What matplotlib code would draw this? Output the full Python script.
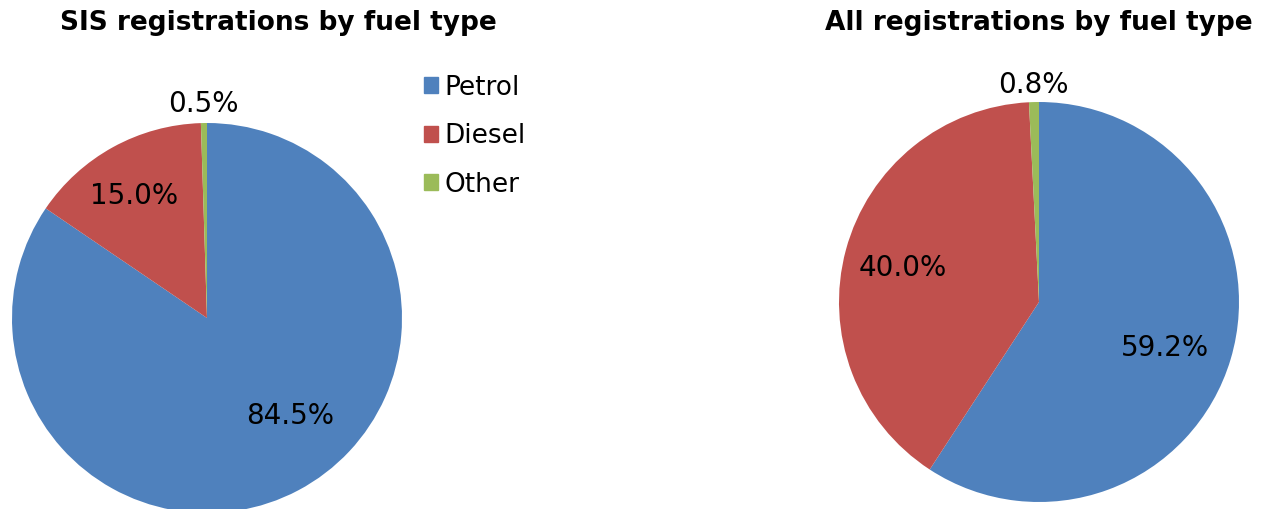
import numpy as np
import matplotlib.pyplot as plt
from matplotlib.patches import Patch

fuel_types = ["Petrol", "Diesel", "Other"]
sis_share = [84.5, 15.0, 0.5]
all_share = [59.2, 40.0, 0.8]
colors = ["#4F81BD", "#C0504D", "#9BBB59"]

# label placement: radius fraction and angle nudge (deg) per slice
sis_label_r = [0.66, 0.73, 1.10]
sis_label_da = [12.5, 2.0, 0.0]
all_label_r = [0.67, 0.70, 1.085]
all_label_da = [-3.4, 1.0, 0.0]

W, H = 1269, 509
plt.rcParams["font.family"] = ["Verdana", "DejaVu Sans"]
fig = plt.figure(figsize=(W / 100, H / 100), dpi=100)


def draw_pie(cx, cy, r, values, label_r, label_da, title, title_x):
    ax = fig.add_axes([(cx - r) / W, (H - cy - r) / H, 2 * r / W, 2 * r / H])
    wedges, _ = ax.pie(values, colors=colors, startangle=90, counterclock=False,
                       radius=1)
    for w, v, lr, da in zip(wedges, values, label_r, label_da):
        ang = np.deg2rad((w.theta1 + w.theta2) / 2 + da)
        ax.text(lr * np.cos(ang), lr * np.sin(ang), f"{v:.1f}%",
                ha="center", va="center", fontsize=20, clip_on=False)
    ax.set_xlim(-1, 1)
    ax.set_ylim(-1, 1)
    ax.set_aspect("equal")
    ax.axis("off")
    fig.text(title_x / W, 1 - 23 / H, title, ha="center", va="center",
             fontsize=19, fontweight="bold")
    return wedges


draw_pie(207, 318, 195, sis_share, sis_label_r, sis_label_da,
         "SIS registrations by fuel type", 278)
draw_pie(1039, 302, 200, all_share, all_label_r, all_label_da,
         "All registrations by fuel type", 1039)

handles = [Patch(color=c) for c in colors]
fig.legend(handles, fuel_types, loc="upper left",
           bbox_to_anchor=(400 / W, 1 - 51 / H), frameon=False,
           fontsize=19, handlelength=0.55, handleheight=0.55,
           handletextpad=0.25, labelspacing=0.85)

fig.savefig("out.png", dpi=100)
